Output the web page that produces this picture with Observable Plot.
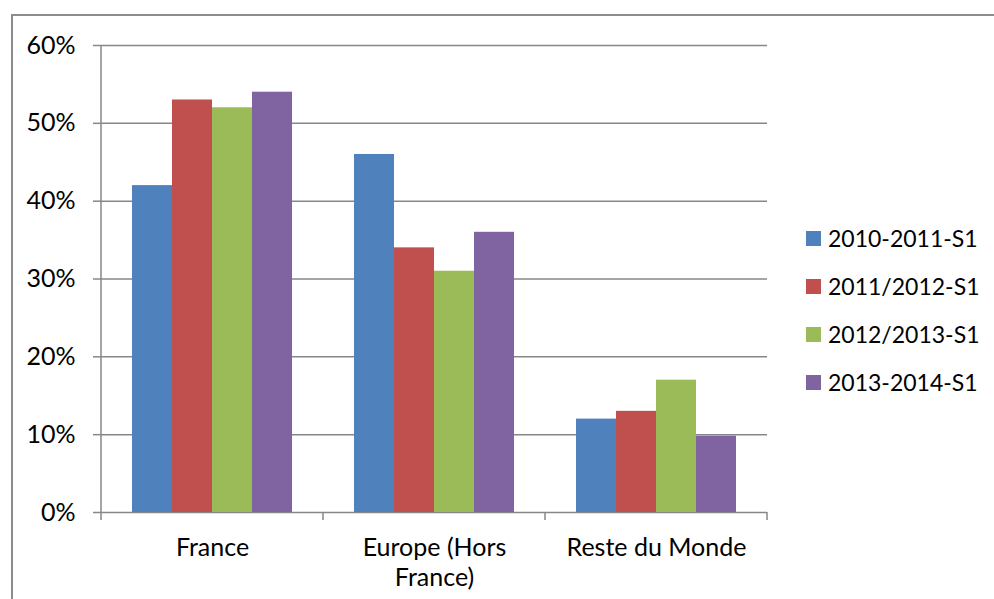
<!DOCTYPE html>
<html>
<head>
<meta charset="utf-8">
<script src="https://cdn.jsdelivr.net/npm/d3@7"></script>
<script src="https://cdn.jsdelivr.net/npm/@observablehq/plot@0.6"></script>
<style>
  html, body { margin: 0; padding: 0; background: #fff; overflow: hidden; }
  #wrap { position: relative; width: 994px; height: 599px; }
  #frame { position: absolute; left: 11px; top: 14px; width: 1100px; height: 700px; border: 2px solid #8c8c8c; box-sizing: border-box; }
  #chart { position: absolute; left: 0; top: 0; }
  #legend { position: absolute; left: 806px; top: 214px; }
  .lg-swatch { height: 48px; display: flex !important; align-items: center; margin: 0 !important; padding: 0 !important; }
  .lg-swatch svg { margin-right: 7px !important; }
</style>
</head>
<body>
<div id="wrap">
  <div id="frame"></div>
  <div id="chart"></div>
  <div id="legend"></div>
</div>
<script>
const categories = ["France", "Europe (Hors France)", "Reste du Monde"];
const categoryLabels = ["France", "Europe (Hors\nFrance)", "Reste du Monde"];
const series = ["2010-2011-S1", "2011/2012-S1", "2012/2013-S1", "2013-2014-S1"];
const franceValues = [0.42, 0.53, 0.52, 0.54];
const europeValues = [0.46, 0.34, 0.31, 0.36];
const resteValues = [0.12, 0.13, 0.17, 0.098];
const colors = ["#4F81BD", "#C0504D", "#9BBB59", "#8064A2"];
const yTicks = [0, 0.1, 0.2, 0.3, 0.4, 0.5, 0.6];

const valuesByCategory = [franceValues, europeValues, resteValues];
const data = categories.flatMap((c, i) =>
  series.map((s, j) => ({category: c, series: s, value: valuesByCategory[i][j]}))
);

const gray = "#878787";
const fontSize = 25;

const plot = Plot.plot({
  width: 994,
  height: 599,
  marginLeft: 100,
  marginRight: 226,
  marginTop: 45,
  marginBottom: 87,
  style: {fontFamily: "Lato", fontSize: fontSize + "px", color: "#000", background: "transparent", overflow: "visible"},
  fx: {domain: categories, padding: 0, label: null, axis: null},
  x: {domain: series, paddingInner: 0, paddingOuter: 0.74, axis: null},
  y: {domain: [0, 0.6], axis: null},
  color: {domain: series, range: colors},
  marks: [
    Plot.gridY(yTicks, {stroke: gray, strokeOpacity: 1, strokeWidth: 1.5}),
    Plot.axisY(yTicks, {
      anchor: "left",
      tickSize: 8,
      tickPadding: 18,
      tickFormat: d3.format(".0%"),
      stroke: gray,
      strokeWidth: 1.5,
      fill: "#000",
      fontSize: fontSize,
      label: null
    }),
    Plot.barY(data, {fx: "category", x: "series", y: "value", fill: "series"}),
    Plot.axisFx({
      anchor: "bottom",
      tickSize: 0,
      tickPadding: 22,
      tickFormat: d => categoryLabels[categories.indexOf(d)],
      lineHeight: 1.2,
      fontSize: fontSize,
      fill: "#000",
      label: null
    })
  ]
});

// Axis line and category boundary ticks from the plot's own scales
const fx = plot.scale("fx");
const y = plot.scale("y");
const g = d3.select(plot).append("g").attr("stroke", gray).attr("stroke-width", 1.5);
const x0 = fx.apply(categories[0]);
g.append("line")
  .attr("x1", x0).attr("x2", x0)
  .attr("y1", y.apply(0.6)).attr("y2", y.apply(0));
const bounds = categories.map(c => fx.apply(c)).concat([fx.apply(categories[categories.length - 1]) + fx.bandwidth]);
g.selectAll("line.b").data(bounds).join("line")
  .attr("class", "b")
  .attr("x1", d => d).attr("x2", d => d)
  .attr("y1", y.apply(0)).attr("y2", y.apply(0) + 8);

document.getElementById("chart").append(plot);

const legend = plot.legend("color", {
  legend: "swatches",
  columns: 1,
  swatchSize: 15,
  className: "lg",
  style: {fontFamily: "Lato", fontSize: "23px", color: "#000", margin: 0}
});
document.getElementById("legend").append(legend);
</script>
</body>
</html>
